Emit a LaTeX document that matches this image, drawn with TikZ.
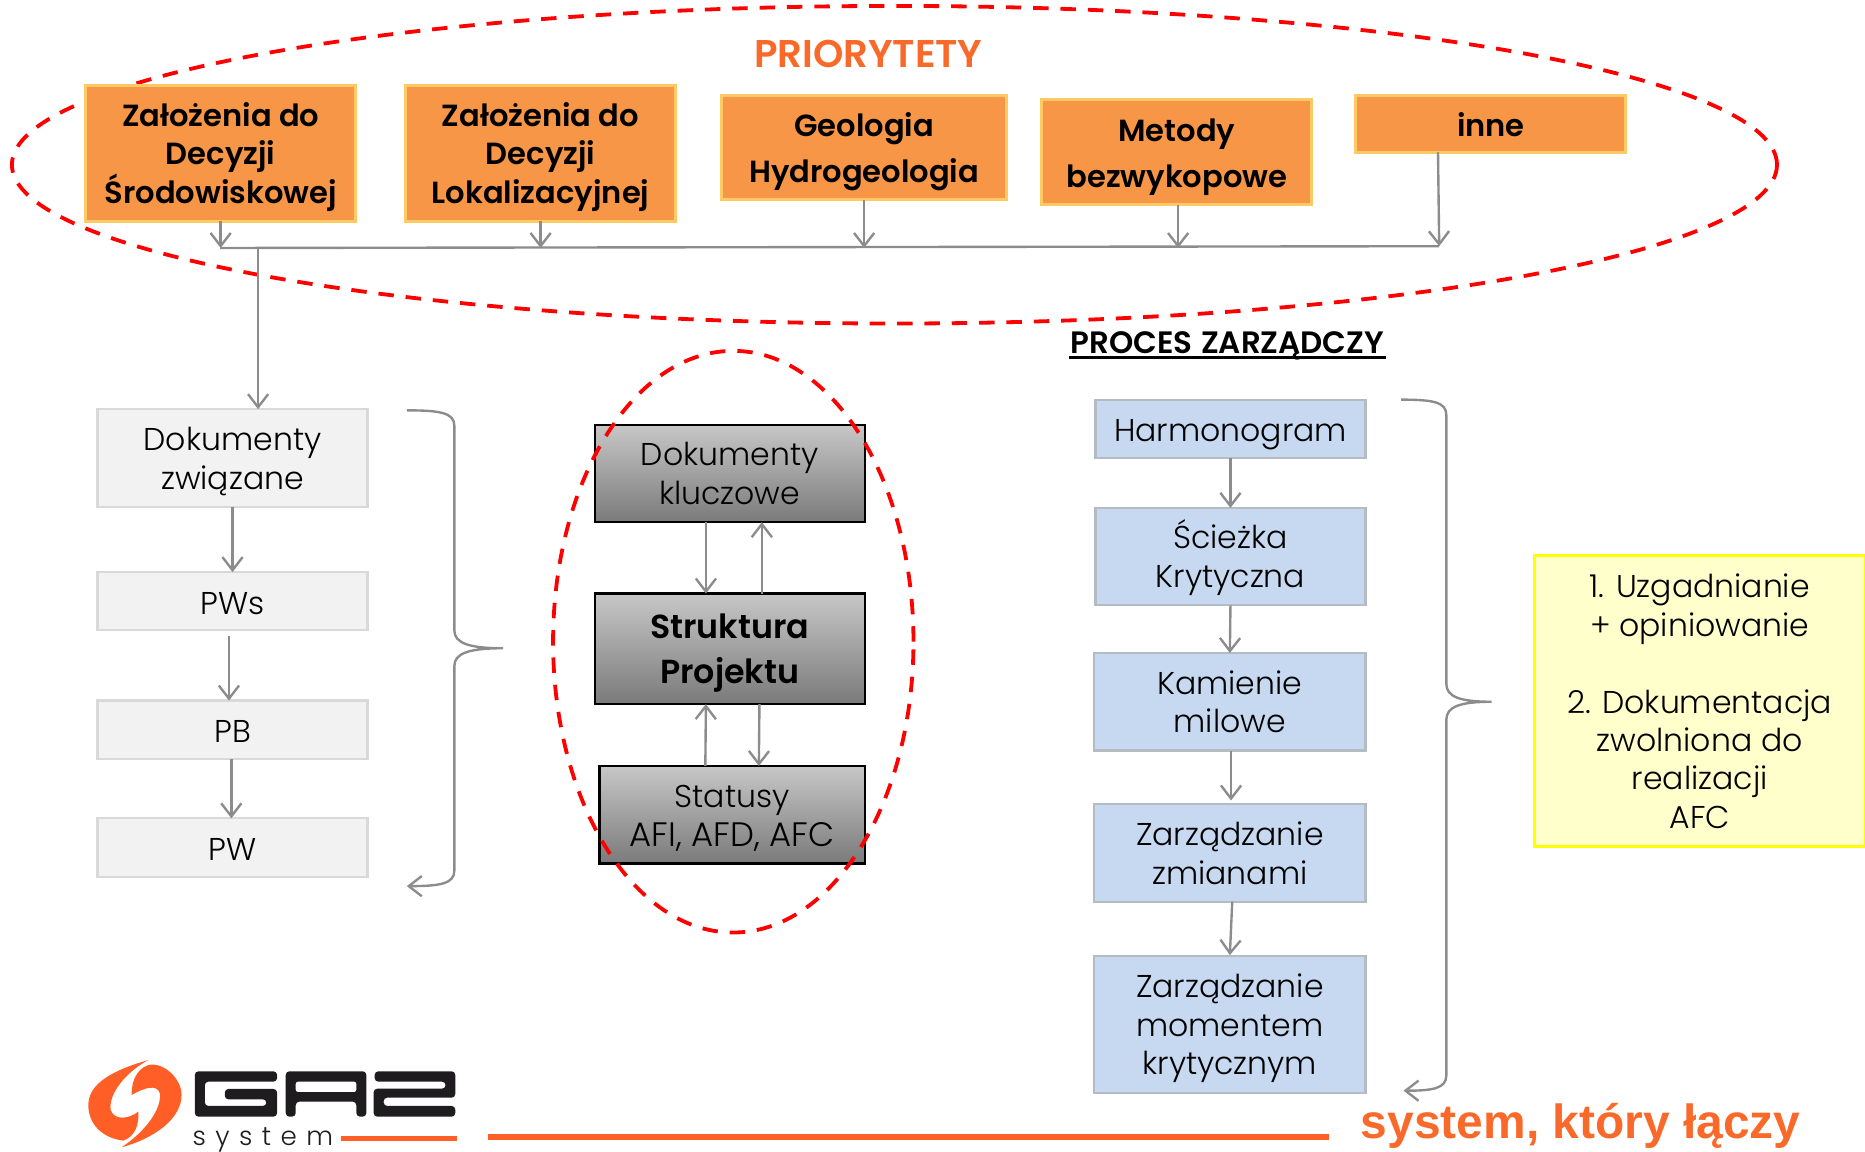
\documentclass[tikz,border=0pt]{standalone}
\usepackage{fontspec}
\usetikzlibrary{calc,arrows.meta,shapes.geometric}
\setmainfont{Poppins Light}[BoldFont={Poppins SemiBold}]
\newfontfamily\arialb{Liberation Sans}[BoldFont={Liberation Sans Bold}]
\newcommand{\firstln}[1][26pt]{\rule{0pt}{#1}}
\definecolor{oFill}{HTML}{F79646}
\definecolor{oLine}{HTML}{FFC964}
\definecolor{oText}{HTML}{F9692A}
\definecolor{lineG}{HTML}{8C8C8C}
\definecolor{gFill}{HTML}{F2F2F2}
\definecolor{gLine}{HTML}{D9D9D9}
\definecolor{bFill}{HTML}{C6D9F1}
\definecolor{bLine}{HTML}{B5BBC3}
\definecolor{yFill}{HTML}{FFFFCC}
\definecolor{yLine}{HTML}{FFFF00}
\definecolor{logoK}{HTML}{1E1C1F}
\definecolor{logoO}{HTML}{FF5F26}
\tikzset{
  x=1pt,y=-1pt,
  box/.style={rectangle,inner sep=0pt,outer sep=0pt,align=center,anchor=north west,
    execute at begin node={\setlength{\baselineskip}{#1}\rule{0pt}{28pt}},
    execute at end node={\rule[-6pt]{0pt}{6pt}}},
  obox/.style={box=32.5pt,draw=oLine,line width=2.5pt,fill=oFill,font=\fontsize{25.7}{32}\selectfont\bfseries},
  gbox/.style={box=32.5pt,draw=gLine,line width=1.8pt,fill=gFill,font=\fontsize{26.5}{32}\selectfont},
  bbox/.style={box=32.5pt,draw=bLine,line width=1.8pt,fill=bFill,font=\fontsize{26.5}{32}\selectfont},
  dbox/.style={box=32.5pt,draw=black,line width=1.8pt,top color=black!22,bottom color=black!52,font=\fontsize{26.5}{32}\selectfont},
  conn/.style={draw=lineG,line width=2pt,-{Straight Barb[length=11pt,width=17pt,line width=2pt]}},
  plain/.style={draw=lineG,line width=2pt},
  ring/.style={draw=red,line width=3.2pt,dash pattern=on 13pt off 10pt},
}
\begin{document}
\begin{tikzpicture}
\useasboundingbox (0,0) rectangle (1568,968);
% ring behind the priorities
\node[ring,ellipse,minimum width=1484pt,minimum height=267pt,inner sep=0pt] (r1) at (752,138.5) {};
% orange boxes
\node[obox,minimum width=227pt,minimum height=114pt] (o1) at (72,72) {\firstln Założenia do\\Decyzji\\Środowiskowej};
\node[obox,minimum width=227pt,minimum height=114pt] (o2) at (341,72) {\firstln Założenia do\\Decyzji\\Lokalizacyjnej};
\node[obox,minimum width=239pt,minimum height=88pt,box=39pt] (o3) at (607,80) {\firstln[27pt]Geologia\\Hydrogeologia};
\node[obox,minimum width=227pt,minimum height=88pt,box=38.5pt] (o4) at (876,84) {\firstln[27pt]Metody\\bezwykopowe};
\node[obox,minimum width=227pt,minimum height=48pt] (o5) at (1140,80) {inne};
\coordinate (busL) at (185,208.5);
\coordinate (busR) at (1210,207);
\coordinate (t1) at (217,208.5);
\draw[plain] (busL) -- (busR);
\draw[conn] (o1.south) -- (o1.south |- busL);
\draw[conn] (o2.south) -- (o2.south |- busL);
\draw[conn] (o3.south) -- (o3.south |- busL);
\draw[conn] ($(o4.south)+(1,0)$) -- ($(o4.south |- busL)+(1,0)$);
\draw[conn] (1209,128) -- (busR);
% grey boxes
\node[gbox,minimum width=227pt,minimum height=82pt] (g1) at (82,344) {\firstln Dokumenty\\związane};
\node[gbox,minimum width=227pt,minimum height=49pt] (g2) at (82,481) {PWs};
\node[gbox,minimum width=227pt,minimum height=49pt] (g3) at (82,589) {PB};
\node[gbox,minimum width=227pt,minimum height=49pt] (g4) at (82,688) {PW};
\draw[conn] (t1) -- (t1 |- g1.north);
\draw[conn] (g1.south) -- (g2.north);
\draw[conn] ($(g2.south)+(-3,5)$) -- ($(g3.north)+(-3,0)$);
\draw[conn] ($(g3.south)+(-1,0)$) -- ($(g4.north)+(-1,0)$);
% left brace
\coordinate (lbT) at (342,345);
\coordinate (lbM) at (423,545);
\coordinate (lbB) at (342,745);
\draw[conn] (lbT) .. controls (370,345) and (382,347) .. (382,358) -- (382,530) .. controls (382,541) and (395,545) .. (lbM) .. controls (395,545) and (382,549) .. (382,560) -- (382,732) .. controls (382,743) and (370,745) .. (lbB);
% dark boxes
\node[dbox,minimum width=227pt,minimum height=82pt] (d1) at (500,357) {\firstln Dokumenty\\kluczowe};
\node[dbox,minimum width=227pt,minimum height=93pt,box=38pt,font=\fontsize{28}{38}\selectfont\bfseries] (d2) at (500,499) {\firstln[28pt]Struktura\\Projektu};
\node[dbox,minimum width=223pt,minimum height=82pt] (d3) at (504,644) {\firstln[27pt]Statusy\\{\fontsize{28.5}{32}\selectfont AFI, AFD, AFC}};
\draw[conn] ($(d1.south)+(-20,0)$) -- ($(d2.north)+(-20,0)$);
\draw[conn] ($(d2.north)+(27,0)$) -- ($(d1.south)+(27,0)$);
\draw[conn] ($(d3.north)+(-22.5,0)$) -- ($(d2.south)+(-20,0)$);
\draw[conn] ($(d2.south)+(25,0)$) -- ($(d3.north)+(22.5,0)$);
% ring over the key boxes
\node[ring,ellipse,minimum width=303pt,minimum height=489pt,inner sep=0pt] (r2) at (616.5,539.5) {};
% titles
\node[font=\fontsize{32.5}{36}\selectfont\bfseries,text=oText] (tp) at (730,45.5) {PRIORYTETY};
\node[font=\fontsize{26}{30}\selectfont\bfseries] (tz) at (1032,290.5) {PROCES\hspace{7pt}ZARZĄDCZY};
\coordinate (ulL) at (899,300.5);
\coordinate (ulR) at (1165,300.5);
\draw[line width=2.4pt] (ulL) -- (ulR);
% blue boxes
\node[bbox,minimum width=227pt,minimum height=49pt] (b1) at (921,336) {Harmonogram};
\node[bbox,minimum width=227pt,minimum height=82pt] (b2) at (921,427) {\firstln Ścieżka\\Krytyczna};
\node[bbox,minimum width=228pt,minimum height=82pt] (b3) at (920,549) {\firstln Kamienie\\milowe};
\node[bbox,minimum width=228pt,minimum height=82pt] (b4) at (920,676) {\firstln Zarządzanie\\zmianami};
\node[bbox,minimum width=228pt,minimum height=115pt] (b5) at (920,804) {\firstln Zarządzanie\\momentem\\krytycznym};
\draw[conn] (b1.south) -- (b2.north);
\draw[conn] (b2.south) -- (b3.north);
\draw[conn] ($(b3.south)+(1,0)$) -- ($(b4.north)+(1,-3)$);
\draw[conn] ($(b4.south)+(2,0)$) -- ($(b5.north)+(0,-1)$);
% right brace
\coordinate (rbT) at (1178,336);
\coordinate (rbM) at (1254,590);
\coordinate (rbB) at (1180,917);
\draw[conn] (rbT) .. controls (1205,336) and (1216,338) .. (1216,349) -- (1216,575) .. controls (1216,586) and (1228,590) .. (rbM) .. controls (1228,590) and (1216,594) .. (1216,605) -- (1216,904) .. controls (1216,915) and (1205,917) .. (rbB);
% yellow
\node[box=32.3pt,draw=yLine,line width=2.4pt,fill=yFill,font=\fontsize{26.5}{32}\selectfont,minimum width=278pt,minimum height=245pt] (y1) at (1290,467) {\firstln 1. Uzgadnianie\\+ opiniowanie\\[32.3pt]2. Dokumentacja\\zwolniona do\\realizacji\\AFC};
% bottom
\coordinate (l1a) at (410,956);
\coordinate (l1b) at (1117,956);
\coordinate (l2a) at (287,957);
\coordinate (l2b) at (384,957);
\draw[logoO,line width=4.4pt] (l1a) -- (l1b);
\draw[logoO,line width=4.4pt] (l2a) -- (l2b);
\node[font=\arialb\fontsize{40.3}{44}\selectfont\bfseries,text=oText] (sl) at (1329,946.5) {system, który łączy};
\node[font=\fontsize{22}{24}\selectfont,text=logoK] (ls) at (221,958) {\addfontfeatures{LetterSpace=36}system};
% logo swirl
\begin{scope}[shift={(67.26pt,-882.8pt)},x=0.28pt,y=-0.28pt]
 \fill[logoO] (205,30) .. controls (100,60) and (25,100) .. (25,165) .. controls (25,225) and (70,265) .. (130,272) .. controls (165,260) and (178,225) .. (175,185) .. controls (150,205) and (105,215) .. (92,180) .. controls (85,130) and (140,65) .. (205,30) -- cycle;
 \fill[logoO] (125,292) .. controls (225,265) and (305,205) .. (305,135) .. controls (305,85) and (250,35) .. (205,45) .. controls (165,60) and (155,100) .. (155,135) .. controls (190,115) and (230,100) .. (240,130) .. controls (245,180) and (195,245) .. (125,292) -- cycle;
\end{scope}
% logo letters
\begin{scope}[shift={(0pt,-866pt)},x=0.28pt,y=-0.28pt]
 \fill[logoK,rounded corners=3pt] (585,124) -- (832,124) -- (832,155) -- (615,155) -- (615,228) -- (800,228) -- (800,208) -- (675,208) -- (675,177) -- (832,177) -- (832,260) -- (585,260) -- cycle;
 \fill[logoK,rounded corners=3pt] (858,124) -- (1100,124) -- (1100,260) -- (1070,260) -- (1070,215) -- (888,215) -- (888,260) -- (858,260) -- cycle;
 \fill[white,rounded corners=2pt] (888,155) rectangle (1070,186);
 \fill[logoK,rounded corners=3pt] (1125,124) -- (1367,124) -- (1367,203) -- (1152,203) -- (1152,228) -- (1367,228) -- (1367,260) -- (1122,260) -- (1122,176) -- (1338,176) -- (1338,155) -- (1125,155) -- cycle;
\end{scope}
\end{tikzpicture}
\end{document}
